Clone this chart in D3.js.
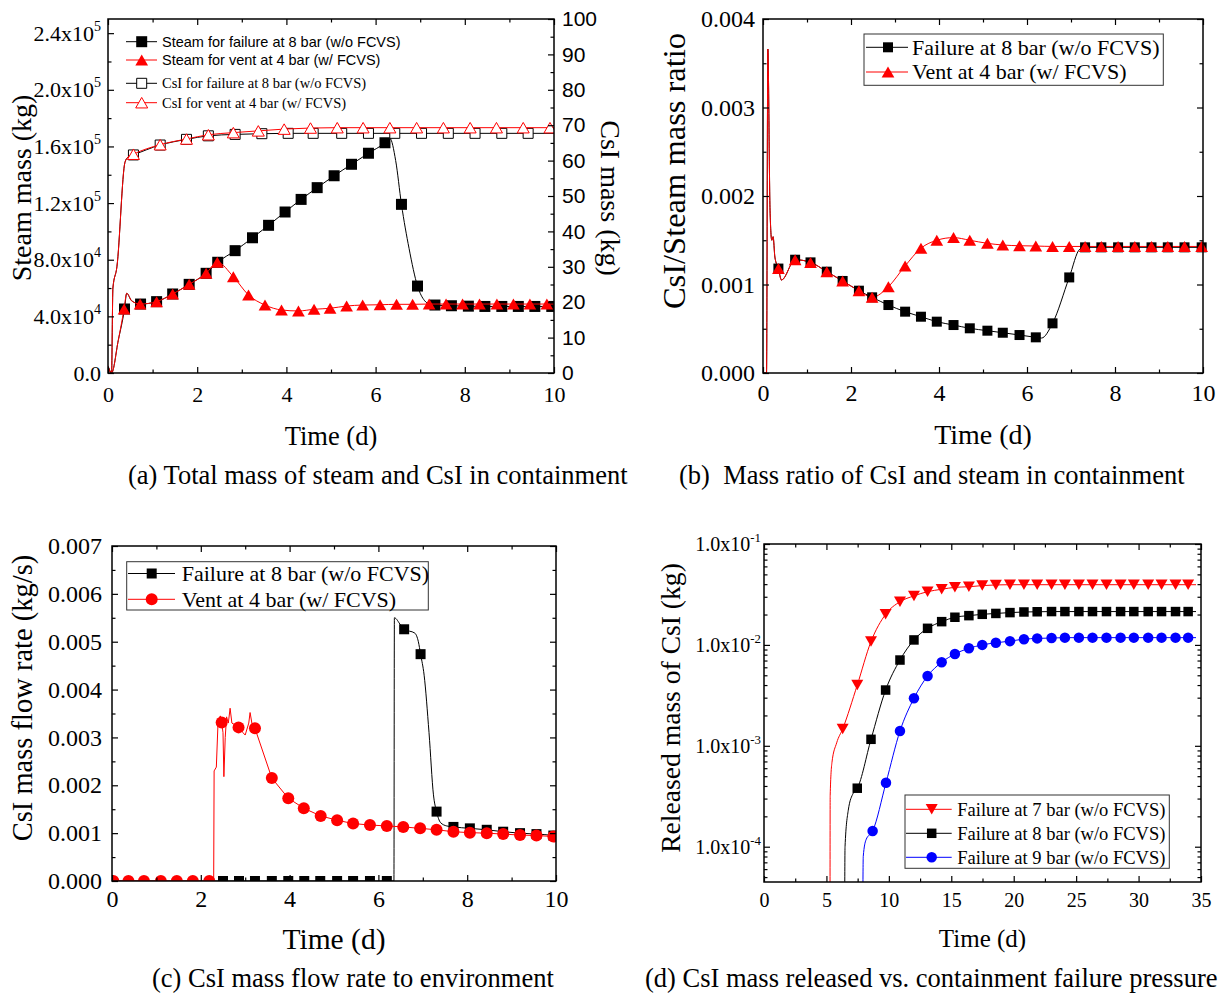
<!DOCTYPE html>
<html><head><meta charset="utf-8">
<script src="https://cdnjs.cloudflare.com/ajax/libs/d3/7.8.5/d3.min.js"></script>
<style>body{margin:0;background:#fff}</style>
</head><body>
<script>
// ---------------- DATA ----------------
// Panel (a): total mass of steam (kg, left axis) and CsI (kg, right axis)
const aXTicks = [0,2,4,6,8,10];
const aYLeftTicks = [0,4e4,8e4,1.2e5,1.6e5,2.0e5,2.4e5];
const aYLeftLabels = [["0.0",null],["4.0x10","4"],["8.0x10","4"],["1.2x10","5"],["1.6x10","5"],["2.0x10","5"],["2.4x10","5"]];
const aYRightTicks = [0,10,20,30,40,50,60,70,80,90,100];
const aSteamFailT = [0.37,0.73,1.09,1.45,1.82,2.20,2.46,2.85,3.24,3.60,3.97,4.33,4.69,5.07,5.46,5.84,6.21,6.58,6.94,7.33,7.70,8.08,8.45,8.83,9.20,9.57,9.95];
const aSteamFailV = [45200,48700,50400,55800,62600,70400,78200,86400,95500,104300,113700,122600,130900,139300,147400,155200,162600,119100,61400,48000,47500,47200,47000,47000,47000,47000,47000];
const aSteamFailExtra = [[0,4500],[0.08,0],[0.23,23000],[0.42,56300],[0.53,51000],[6.32,165700],[6.45,150000],[6.75,88000],[7.1,51000],[7.2,48800],[10,47000]];
const aSteamVentT = [0.36,0.72,1.09,1.45,1.82,2.20,2.45,2.81,3.15,3.52,3.89,4.27,4.62,4.98,5.35,5.71,6.10,6.47,6.83,7.20,7.58,7.95,8.33,8.72,9.09,9.46,9.84];
const aSteamVentV = [45200,48700,50400,55800,62600,70400,78200,68000,55100,48000,44500,43800,45000,45700,47300,48000,48200,48500,48500,48700,48700,48700,48700,48700,48700,48700,48700];
const aSteamVentExtra = [[0,4500],[0.08,0],[0.23,23000],[0.42,56300],[0.53,51000],[10,48700]];
const aCsIFailT = [0.57,1.17,1.76,2.25,2.85,3.45,4.04,4.60,5.24,5.84,6.43,7.03,7.63,8.23,8.83,9.42];
const aCsIFailV = [61.6,64.4,66.0,67.0,67.4,67.6,67.7,67.7,67.7,67.7,67.7,67.7,67.7,67.7,67.7,67.7];
const aCsIFailExtra = [[0,2],[0.08,0],[0.11,24],[0.2,30],[0.38,59.5],[0.45,61],[10,67.7]];
const aCsIVentT = [0.57,1.17,1.76,2.25,2.81,3.37,3.95,4.54,5.14,5.72,6.32,6.92,7.52,8.12,8.71,9.31,9.91];
const aCsIVentV = [61.8,64.5,66.1,67.3,67.9,68.4,68.9,69.2,69.3,69.3,69.3,69.3,69.3,69.3,69.3,69.3,69.3];
const aCsIVentExtra = [[0,2],[0.08,0],[0.11,24],[0.2,30],[0.38,59.5],[0.45,61],[10,69.3]];
const aLegend = ["Steam for failure at 8 bar (w/o FCVS)","Steam for vent at 4 bar (w/ FCVS)","CsI for failure at 8 bar (w/o FCVS)","CsI for vent at 4 bar (w/ FCVS)"];

// Panel (b): CsI / steam mass ratio
const bXTicks = [0,2,4,6,8,10];
const bYTicks = [0,0.001,0.002,0.003,0.004];
const bFailT = [0.35,0.73,1.08,1.45,1.81,2.18,2.48,2.85,3.23,3.59,3.95,4.33,4.70,5.10,5.45,5.83,6.20,6.58,6.96,7.32,7.69,8.07,8.45,8.83,9.20,9.58,9.97];
const bFailV = [0.00118,0.00128,0.00125,0.001145,0.00104,0.00093,0.000855,0.000768,0.000693,0.000636,0.000580,0.000542,0.000505,0.000478,0.000455,0.000429,0.000403,0.000561,0.00108,0.00142,0.00142,0.00142,0.00142,0.00142,0.00142,0.00142,0.00142];
const bFailExtra = [[0,0],[0.08,0],[0.11,0.00366],[0.16,0.00184],[0.2,0.0015],[0.23,0.00154],[0.27,0.00131],[0.42,0.00105],[6.33,0.000395],[7.2,0.0014],[10,0.00142]];
const bVentT = [0.35,0.73,1.08,1.45,1.81,2.18,2.48,2.85,3.23,3.59,3.95,4.33,4.70,5.10,5.45,5.83,6.20,6.58,6.96,7.32,7.69,8.07,8.45,8.83,9.20,9.58,9.97];
const bVentV = [0.00118,0.00128,0.00125,0.001145,0.00104,0.00093,0.000855,0.000975,0.00121,0.00141,0.00150,0.00153,0.00150,0.001465,0.001446,0.001438,0.001435,0.00143,0.00143,0.00143,0.00143,0.00143,0.00143,0.00143,0.00143,0.00143,0.00143];
const bVentExtra = [[0,0],[0.08,0],[0.11,0.00366],[0.16,0.00184],[0.2,0.0015],[0.23,0.00154],[0.27,0.00131],[0.42,0.00105],[10,0.00143]];
const bLegend = ["Failure at 8 bar (w/o FCVS)","Vent at 4 bar (w/ FCVS)"];

// Panel (c): CsI mass flow rate to environment
const cXTicks = [0,2,4,6,8,10];
const cYTicks = [0,0.001,0.002,0.003,0.004,0.005,0.006,0.007];
const cFailT = [2.50,2.86,3.22,3.60,3.97,4.33,4.69,5.07,5.43,5.81,6.19,6.58,6.95,7.31,7.69,8.06,8.44,8.81,9.19,9.56,9.94];
const cFailV = [0,0,0,0,0,0,0,0,0,0,0,0.00526,0.00474,0.00145,0.00113,0.00110,0.00107,0.00103,0.00100,0.00098,0.00095];
const cFailExtra = [[0,0],[6.35,0],[6.36,0.0055],[6.5,0.00535],[6.82,0.00518],[6.9,0.0050],[7.03,0.0043],[7.14,0.0031],[7.24,0.0018],[7.4,0.00122],[7.54,0.00115],[10,0.00094]];
const cVentT = [0.03,0.37,0.72,1.10,1.46,1.82,2.19,2.47,2.85,3.22,3.60,3.97,4.32,4.70,5.07,5.43,5.81,6.19,6.56,6.94,7.31,7.69,8.06,8.44,8.81,9.19,9.56,9.94];
const cVentV = [0,0,0,0,0,0,0,0.00331,0.00321,0.00319,0.00215,0.00173,0.00152,0.00136,0.00127,0.00120,0.00117,0.00115,0.00113,0.00110,0.00107,0.00103,0.00101,0.00100,0.00098,0.00096,0.00095,0.00093];
const cVentExtra = [[0,0],[2.29,0],[2.30,0.00230],[2.35,0.00238],[2.39,0.00336],[2.44,0.00345],[2.50,0.0031],[2.52,0.00218],[2.55,0.0030],[2.58,0.00343],[2.62,0.0033],[2.66,0.00361],[2.70,0.0033],[2.95,0.0031],[3.0,0.00305],[3.08,0.0033],[3.11,0.00352],[3.15,0.0033],[10,0.00092]];
const cLegend = ["Failure at 8 bar (w/o FCVS)","Vent at 4 bar (w/ FCVS)"];

// Panel (d): released CsI mass vs containment failure pressure (log)
const dXTicks = [0,5,10,15,20,25,30,35];
const dYTicks = [1e-4,1e-3,1e-2,1e-1];
const dYLabels = [["1.0x10","-4"],["1.0x10","-3"],["1.0x10","-2"],["1.0x10","-1"]];
const d7T = [6.30,7.47,8.57,9.74,10.89,12.01,13.10,14.23,15.29,16.41,17.48,18.57,19.70,20.82,21.88,23.03,24.10,25.22,26.31,27.43,28.56,29.62,30.77,31.84,32.96,33.97];
const d7V = [1.47e-3,4.0e-3,1.08e-2,2.01e-2,2.68e-2,3.06e-2,3.37e-2,3.56e-2,3.72e-2,3.77e-2,3.87e-2,3.93e-2,3.95e-2,3.95e-2,3.95e-2,3.95e-2,3.95e-2,3.95e-2,3.95e-2,3.95e-2,3.95e-2,3.95e-2,3.95e-2,3.95e-2,3.95e-2,3.95e-2];
const d7Extra = [[5.28,1e-6],[5.30,3.2e-4],[5.44,6.8e-4],[5.82,1.07e-3],[34.6,3.95e-2]];
const d8T = [7.47,8.57,9.74,10.89,12.01,13.10,14.23,15.29,16.41,17.48,18.57,19.70,20.82,21.88,23.03,24.10,25.22,26.31,27.43,28.56,29.62,30.77,31.84,32.96,33.97];
const d8V = [3.8e-4,1.16e-3,3.57e-3,7.08e-3,1.12e-2,1.46e-2,1.70e-2,1.88e-2,1.95e-2,2.01e-2,2.05e-2,2.09e-2,2.12e-2,2.13e-2,2.14e-2,2.14e-2,2.14e-2,2.14e-2,2.14e-2,2.14e-2,2.14e-2,2.14e-2,2.14e-2,2.14e-2,2.14e-2];
const d8Extra = [[6.43,1e-6],[6.49,1.0e-4],[6.75,2.3e-4],[7.15,3.4e-4],[34.6,2.14e-2]];
const d9T = [8.70,9.77,10.89,12.01,13.10,14.23,15.29,16.41,17.48,18.57,19.70,20.82,21.88,23.03,24.10,25.22,26.31,27.43,28.56,29.62,30.77,31.84,32.96,33.97];
const d9V = [1.43e-4,4.3e-4,1.40e-3,2.96e-3,4.92e-3,6.73e-3,8.13e-3,9.25e-3,1.00e-2,1.05e-2,1.09e-2,1.14e-2,1.16e-2,1.17e-2,1.18e-2,1.18e-2,1.18e-2,1.18e-2,1.18e-2,1.18e-2,1.18e-2,1.18e-2,1.18e-2,1.18e-2];
const d9Extra = [[7.87,1e-6],[7.95,8e-5],[8.17,1.17e-4],[34.6,1.18e-2]];
const dLegend = ["Failure at 7 bar (w/o FCVS)","Failure at 8 bar (w/o FCVS)","Failure at 9 bar (w/o FCVS)"];

const captions = ["(a) Total mass of steam and CsI in containment","(b)\u00a0 Mass ratio of CsI and steam in containment","(c) CsI mass flow rate to environment","(d) CsI mass released vs. containment failure pressure"];

// ---------------- DRAWING ----------------
const W=1221,H=994;
const SERIF='"Liberation Serif","Times New Roman",serif';
const SANS='"Liberation Sans",Arial,sans-serif';
const svg=d3.select('body').append('svg').attr('width',W).attr('height',H);
svg.append('rect').attr('width',W).attr('height',H).attr('fill','#fff');

const zip=(T,V)=>T.map((t,i)=>[t,V[i]]);
const merge=(a,b)=>a.concat(b).sort((p,q)=>p[0]-q[0]);

function shapePath(shape,w,h){
  h=h||w;const a=w/2,b=h/2;
  if(shape==='square')return `M${-a},${-b}H${a}V${b}H${-a}Z`;
  if(shape==='up')return `M0,${-b}L${a},${b}L${-a},${b}Z`;
  if(shape==='down')return `M0,${b}L${a},${-b}L${-a},${-b}Z`;
  return `M${a},0A${a},${a} 0 1,1 ${-a},0A${a},${a} 0 1,1 ${a},0Z`;
}

function makePanel(name,L,R,T,B,xDom,yDom,yLog,clip){
  const x=d3.scaleLinear().domain(xDom).range([L,R]);
  const y=(yLog?d3.scaleLog():d3.scaleLinear()).domain(yDom).range([B,T]);
  const g=svg.append('g');
  const id='clip_'+name;
  svg.append('clipPath').attr('id',id).append('rect').attr('x',L).attr('y',T).attr('width',R-L).attr('height',B-T);
  const data=g.append('g');
  if(clip)data.attr('clip-path',`url(#${id})`);
  return {name,L,R,T,B,x,y,g,data};
}

function axis(p,gen,transform,vals,size,fmt,pad,font,fs){
  const a=p.g.append('g').attr('transform',transform)
    .call(gen.tickValues(vals).tickSizeInner(-size).tickSizeOuter(0).tickPadding(pad||0).tickFormat(fmt||(()=> '')));
  a.select('.domain').remove();
  a.selectAll('.tick line').attr('stroke','#000').attr('stroke-width',1.2);
  if(fmt){a.selectAll('.tick text').attr('font-family',font).attr('font-size',fs).attr('fill','#000');}
  else a.selectAll('.tick text').remove();
  return a;
}

function frame(p){
  p.g.append('rect').attr('x',p.L).attr('y',p.T).attr('width',p.R-p.L).attr('height',p.B-p.T)
    .attr('fill','none').attr('stroke','#000').attr('stroke-width',1.5);
}

function series(p,yScale,line,marks,st){
  const lg=d3.line().x(d=>p.x(d[0])).y(d=>yScale(d[1])).curve(st.curve||d3.curveMonotoneX);
  p.data.append('path').attr('d',lg(line)).attr('fill','none').attr('stroke',st.color).attr('stroke-width',st.lw||1);
  p.data.selectAll(null).data(marks).enter().append('path')
    .attr('transform',d=>`translate(${p.x(d[0])},${yScale(d[1])})`)
    .attr('d',shapePath(st.shape,st.w,st.h))
    .attr('fill',st.fill).attr('stroke',st.stroke||'none').attr('stroke-width',st.sw||1);
}

function supText(g,x,y,base,exp,fs,anchor,font){
  const t=g.append('text').attr('x',x).attr('y',y).attr('text-anchor',anchor||'end')
    .attr('font-family',font||SERIF).attr('font-size',fs).attr('fill','#000');
  t.append('tspan').text(base);
  if(exp!=null)t.append('tspan').attr('dy',-fs*0.45).attr('font-size',fs*0.64).text(exp);
  return t;
}

function title(g,text,x,y,fs,rot,font){
  g.append('text').attr('transform',`translate(${x},${y})`+(rot?` rotate(${rot})`:''))
    .attr('text-anchor','middle').attr('font-family',font||SERIF).attr('font-size',fs).attr('fill','#000').text(text);
}

function legendEntry(g,x1,x2,xm,y,st,text,tx,fs,font){
  g.append('line').attr('x1',x1).attr('x2',x2).attr('y1',y).attr('y2',y).attr('stroke',st.color).attr('stroke-width',1);
  g.append('path').attr('transform',`translate(${xm},${y})`).attr('d',shapePath(st.shape,st.w,st.h))
    .attr('fill',st.fill).attr('stroke',st.stroke||'none').attr('stroke-width',st.sw||1);
  g.append('text').attr('x',tx).attr('y',y+fs*0.34).attr('font-family',font).attr('font-size',fs).attr('fill','#000').text(text);
}

const minors=(a,b,s,maj)=>d3.range(a,b+s/2,s).filter(v=>!maj.some(m=>Math.abs(m-v)<1e-12));

// ===== Panel (a) =====
{
  const p=makePanel('a',108,554,19,373,[0,10],[0,2.5e5],false,true);
  const yR=d3.scaleLinear().domain([0,100]).range([373,19]);
  const stSF={color:'#000',shape:'square',w:11,fill:'#000'};
  const stSV={color:'#ff0000',shape:'up',w:12.7,h:11,fill:'#ff0000'};
  const stCF={color:'#000',shape:'square',w:10,fill:'#fff',stroke:'#000',sw:1};
  const stCV={color:'#ff0000',shape:'up',w:12,h:10.5,fill:'#fff',stroke:'#ff0000',sw:1};
  series(p,p.y,merge(zip(aSteamFailT,aSteamFailV),aSteamFailExtra),zip(aSteamFailT,aSteamFailV),stSF);
  series(p,p.y,merge(zip(aSteamVentT,aSteamVentV),aSteamVentExtra),zip(aSteamVentT,aSteamVentV),stSV);
  series(p,yR,merge(zip(aCsIFailT,aCsIFailV),aCsIFailExtra),zip(aCsIFailT,aCsIFailV),stCF);
  series(p,yR,merge(zip(aCsIVentT,aCsIVentV),aCsIVentExtra),zip(aCsIVentT,aCsIVentV),stCV);
  frame(p);
  axis(p,d3.axisBottom(p.x),`translate(0,${p.B})`,aXTicks,6,d3.format('d'),13.4,SERIF,22);
  axis(p,d3.axisBottom(p.x),`translate(0,${p.B})`,minors(0,10,1,aXTicks),3.5);
  axis(p,d3.axisTop(p.x),`translate(0,${p.T})`,aXTicks,6);
  axis(p,d3.axisTop(p.x),`translate(0,${p.T})`,minors(0,10,1,aXTicks),3.5);
  axis(p,d3.axisLeft(p.y),`translate(${p.L},0)`,aYLeftTicks,6);
  axis(p,d3.axisLeft(p.y),`translate(${p.L},0)`,minors(0,2.4e5,2e4,aYLeftTicks),3.5);
  aYLeftTicks.forEach((v,i)=>supText(p.g,101,p.y(v)+7.5,aYLeftLabels[i][0],aYLeftLabels[i][1],22,'end'));
  axis(p,d3.axisRight(yR),`translate(${p.R},0)`,aYRightTicks,6,d3.format('d'),8,SANS,21);
  axis(p,d3.axisRight(yR),`translate(${p.R},0)`,minors(0,100,5,aYRightTicks),3.5);
  title(p.g,'Steam mass (kg)',30.5,188,28,-90);
  title(p.g,'CsI mass (kg)',601,198,28,90);
  title(p.g,'Time (d)',331,445,26.5,0);
  const lg=p.g.append('g');
  const ys=[41.7,60,83.3,102.7];
  [stSF,stSV,stCF,stCV].forEach((st,i)=>legendEntry(lg,126,157,141.7,ys[i],st,aLegend[i],162,14.5,i<2?SANS:SERIF));
}

// ===== Panel (b) =====
{
  const p=makePanel('b',763,1203,19,373,[0,10],[0,0.004],false,false);
  const stF={color:'#000',shape:'square',w:10,fill:'#000'};
  const stV={color:'#ff0000',shape:'up',w:12.7,h:11,fill:'#ff0000'};
  const clipG=p.data.append('g').attr('clip-path','url(#clip_b)');
  const lg=d3.line().x(d=>p.x(d[0])).y(d=>p.y(d[1])).curve(d3.curveMonotoneX);
  clipG.append('path').attr('d',lg(merge(zip(bFailT,bFailV),bFailExtra))).attr('fill','none').attr('stroke','#000').attr('stroke-width',1);
  p.data.selectAll(null).data(zip(bFailT,bFailV)).enter().append('path')
    .attr('transform',d=>`translate(${p.x(d[0])},${p.y(d[1])})`).attr('d',shapePath('square',10)).attr('fill','#000');
  clipG.append('path').attr('d',lg(merge(zip(bVentT,bVentV),bVentExtra))).attr('fill','none').attr('stroke','#ff0000').attr('stroke-width',1);
  p.data.selectAll(null).data(zip(bVentT,bVentV)).enter().append('path')
    .attr('transform',d=>`translate(${p.x(d[0])},${p.y(d[1])})`).attr('d',shapePath('up',12.7,11)).attr('fill','#ff0000');
  frame(p);
  axis(p,d3.axisBottom(p.x),`translate(0,${p.B})`,bXTicks,6,d3.format('d'),11,SERIF,24);
  axis(p,d3.axisBottom(p.x),`translate(0,${p.B})`,minors(0,10,1,bXTicks),3.5);
  axis(p,d3.axisTop(p.x),`translate(0,${p.T})`,bXTicks,6);
  axis(p,d3.axisTop(p.x),`translate(0,${p.T})`,minors(0,10,1,bXTicks),3.5);
  axis(p,d3.axisLeft(p.y),`translate(${p.L},0)`,bYTicks,6,d3.format('.3f'),8,SERIF,24);
  axis(p,d3.axisLeft(p.y),`translate(${p.L},0)`,minors(0,0.004,0.0005,bYTicks),3.5);
  axis(p,d3.axisRight(p.y),`translate(${p.R},0)`,bYTicks,6);
  axis(p,d3.axisRight(p.y),`translate(${p.R},0)`,minors(0,0.004,0.0005,bYTicks),3.5);
  title(p.g,'CsI/Steam mass ratio',685,171,32.5,-90);
  title(p.g,'Time (d)',983,444,28,0);
  const lgd=p.g.append('g');
  lgd.append('rect').attr('x',864).attr('y',34).attr('width',299.3).attr('height',51.3).attr('fill','#fff').attr('stroke','#333').attr('stroke-width',1);
  legendEntry(lgd,866,908,888,47.3,stF,bLegend[0],912,22,SERIF);
  legendEntry(lgd,866,908,888,72,stV,bLegend[1],912,22,SERIF);
}

// ===== Panel (c) =====
{
  const p=makePanel('c',112,556,546,881,[0,10],[0,0.007],false,true);
  const stF={color:'#000',shape:'square',w:10,fill:'#000'};
  const stV={color:'#ff0000',shape:'circle',w:12,fill:'#ff0000',curve:d3.curveLinear};
  series(p,p.y,merge(zip(cFailT,cFailV),cFailExtra),zip(cFailT,cFailV),stF);
  series(p,p.y,merge(zip(cVentT,cVentV),cVentExtra),zip(cVentT,cVentV),stV);
  frame(p);
  axis(p,d3.axisBottom(p.x),`translate(0,${p.B})`,cXTicks,6,d3.format('d'),9,SERIF,24);
  axis(p,d3.axisBottom(p.x),`translate(0,${p.B})`,minors(0,10,1,cXTicks),3.5);
  axis(p,d3.axisTop(p.x),`translate(0,${p.T})`,cXTicks,6);
  axis(p,d3.axisTop(p.x),`translate(0,${p.T})`,minors(0,10,1,cXTicks),3.5);
  axis(p,d3.axisLeft(p.y),`translate(${p.L},0)`,cYTicks,6,d3.format('.3f'),10,SERIF,24);
  axis(p,d3.axisLeft(p.y),`translate(${p.L},0)`,minors(0,0.007,0.0005,cYTicks),3.5);
  axis(p,d3.axisRight(p.y),`translate(${p.R},0)`,cYTicks,6);
  axis(p,d3.axisRight(p.y),`translate(${p.R},0)`,minors(0,0.007,0.0005,cYTicks),3.5);
  title(p.g,'CsI mass flow rate (kg/s)',32,698,28.5,-90);
  title(p.g,'Time (d)',334,949,29.5,0);
  const lgd=p.g.append('g');
  lgd.append('rect').attr('x',126.7).attr('y',561.7).attr('width',301.6).attr('height',48.3).attr('fill','#fff').attr('stroke','#333').attr('stroke-width',1);
  legendEntry(lgd,128,175,151.7,573.5,stF,cLegend[0],181.7,22,SERIF);
  legendEntry(lgd,128,175,151.7,599.3,stV,cLegend[1],181.7,22,SERIF);
}

// ===== Panel (d) =====
{
  const p=makePanel('d',764,1201,544,882,[0,35],[4.47e-5,0.1],true,true);
  const st7={color:'#ff0000',shape:'down',w:12,h:10.5,fill:'#ff0000'};
  const st8={color:'#000',shape:'square',w:9.5,fill:'#000'};
  const st9={color:'#0000ff',shape:'circle',w:10.5,fill:'#0000ff'};
  series(p,p.y,merge(zip(d7T,d7V),d7Extra),zip(d7T,d7V),st7);
  series(p,p.y,merge(zip(d8T,d8V),d8Extra),zip(d8T,d8V),st8);
  series(p,p.y,merge(zip(d9T,d9V),d9Extra),zip(d9T,d9V),st9);
  frame(p);
  const logMinors=[];
  [1e-5,1e-4,1e-3,1e-2].forEach(d=>{for(let k=2;k<=9;k++){const v=k*d;if(v>=4.47e-5&&v<0.1)logMinors.push(v);}});
  axis(p,d3.axisBottom(p.x),`translate(0,${p.B})`,dXTicks,6,d3.format('d'),10.8,SERIF,20);
  axis(p,d3.axisBottom(p.x),`translate(0,${p.B})`,minors(0,35,2.5,dXTicks),3.5);
  axis(p,d3.axisTop(p.x),`translate(0,${p.T})`,dXTicks,6);
  axis(p,d3.axisTop(p.x),`translate(0,${p.T})`,minors(0,35,2.5,dXTicks),3.5);
  axis(p,d3.axisLeft(p.y),`translate(${p.L},0)`,dYTicks,6);
  axis(p,d3.axisLeft(p.y),`translate(${p.L},0)`,logMinors,3.5);
  axis(p,d3.axisRight(p.y),`translate(${p.R},0)`,dYTicks,6);
  axis(p,d3.axisRight(p.y),`translate(${p.R},0)`,logMinors,3.5);
  dYTicks.forEach((v,i)=>supText(p.g,761,p.y(v)+7,dYLabels[i][0],dYLabels[i][1],20,'end'));
  title(p.g,'Released mass of CsI (kg)',680,708,27.6,-90);
  title(p.g,'Time (d)',982.5,947,25,0);
  const lgd=p.g.append('g');
  lgd.append('rect').attr('x',905).attr('y',795).attr('width',264.3).attr('height',73.3).attr('fill','#fff').attr('stroke','#333').attr('stroke-width',1);
  [st7,st8,st9].forEach((st,i)=>legendEntry(lgd,906,951.7,931.7,809.3+24*i,st,dLegend[i],957.3,18.5,SERIF));
}

// captions
const capPos=[[128,484],[679,484],[152,987],[645,987]];
captions.forEach((c,i)=>svg.append('text').attr('x',capPos[i][0]).attr('y',capPos[i][1])
  .attr('font-family',SERIF).attr('font-size',26.5).attr('fill','#000').text(c));
</script>
</body></html>
